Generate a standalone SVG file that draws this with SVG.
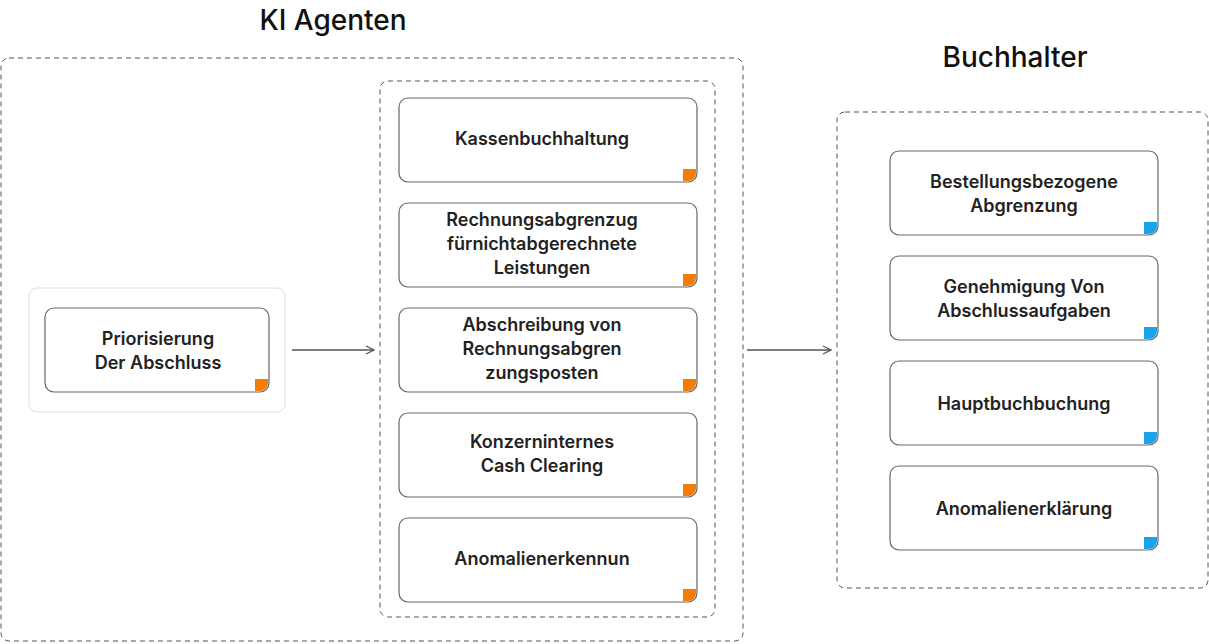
<svg xmlns="http://www.w3.org/2000/svg" width="1209" height="644" viewBox="0 0 1209 644">
<defs>
<style>
.dash{fill:none;stroke:#555;stroke-width:1;stroke-dasharray:5,4}
.node{fill:#fff;stroke:#666;stroke-width:1.2}
.t{font-family:Inter,"Open Sans",sans-serif;font-weight:600;font-size:18px;fill:#222;text-anchor:middle}
.h{font-family:Inter,"Open Sans",sans-serif;font-weight:500;font-size:28px;fill:#111;text-anchor:middle}
.o{fill:#f57c00}.b{fill:#1aa3e8}
.c{stroke:#555;stroke-width:1.3;fill:none}
</style>
<marker id="ar" viewBox="0 0 10 10" refX="9" refY="5" markerWidth="10" markerHeight="10" markerUnits="userSpaceOnUse" orient="auto"><path d="M1,1L9,5L1,9" fill="none" stroke="#555" stroke-width="1.3"/></marker>
</defs>
<rect width="1209" height="644" fill="#fff"/>
<text class="h" x="333" y="30">KI Agenten</text>
<text class="h" x="1015" y="67">Buchhalter</text>
<rect class="dash" x="1" y="58" width="742" height="583" rx="8"/>
<rect class="dash" x="380" y="81" width="335" height="536" rx="8"/>
<rect class="dash" x="837" y="112" width="371" height="476" rx="8"/>
<g id="prio">
<rect x="29" y="288" width="256" height="124" rx="8" fill="#fff" stroke="#ddd"/>
<rect class="node" x="45" y="308" width="224" height="84" rx="9"/>
<path class="o" d="M255,379h13v4a8,8 0 0 1-8,8h-5z"/>
<text class="t" x="158" y="345">Priorisierung</text><text class="t" x="158" y="369">Der Abschluss</text>
</g>
<g id="n1"><rect class="node" x="399" y="98" width="298" height="84" rx="9"/><path class="o" d="M683,169h13v4a8,8 0 0 1-8,8h-5z"/><text class="t" x="542" y="145">Kassenbuchhaltung</text></g>
<g id="n2"><rect class="node" x="399" y="203" width="298" height="84" rx="9"/><path class="o" d="M683,274h13v4a8,8 0 0 1-8,8h-5z"/><text class="t" x="542" y="226">Rechnungsabgrenzug</text><text class="t" x="542" y="250">fürnichtabgerechnete</text><text class="t" x="542" y="274">Leistungen</text></g>
<g id="n3"><rect class="node" x="399" y="308" width="298" height="84" rx="9"/><path class="o" d="M683,379h13v4a8,8 0 0 1-8,8h-5z"/><text class="t" x="542" y="331">Abschreibung von</text><text class="t" x="542" y="355">Rechnungsabgren</text><text class="t" x="542" y="379">zungsposten</text></g>
<g id="n4"><rect class="node" x="399" y="413" width="298" height="84" rx="9"/><path class="o" d="M683,484h13v4a8,8 0 0 1-8,8h-5z"/><text class="t" x="542" y="448">Konzerninternes</text><text class="t" x="542" y="472">Cash Clearing</text></g>
<g id="n5"><rect class="node" x="399" y="518" width="298" height="84" rx="9"/><path class="o" d="M683,589h13v4a8,8 0 0 1-8,8h-5z"/><text class="t" x="542" y="565">Anomalienerkennun</text></g>
<g id="b1"><rect class="node" x="890" y="151" width="268" height="84" rx="9"/><path class="b" d="M1144,222h13v4a8,8 0 0 1-8,8h-5z"/><text class="t" x="1024" y="188">Bestellungsbezogene</text><text class="t" x="1024" y="212">Abgrenzung</text></g>
<g id="b2"><rect class="node" x="890" y="256" width="268" height="84" rx="9"/><path class="b" d="M1144,327h13v4a8,8 0 0 1-8,8h-5z"/><text class="t" x="1024" y="293">Genehmigung Von</text><text class="t" x="1024" y="317">Abschlussaufgaben</text></g>
<g id="b3"><rect class="node" x="890" y="361" width="268" height="84" rx="9"/><path class="b" d="M1144,432h13v4a8,8 0 0 1-8,8h-5z"/><text class="t" x="1024" y="410">Hauptbuchbuchung</text></g>
<g id="b4"><rect class="node" x="890" y="466" width="268" height="84" rx="9"/><path class="b" d="M1144,537h13v4a8,8 0 0 1-8,8h-5z"/><text class="t" x="1024" y="515">Anomalienerklärung</text></g>
<g id="connectors">
<path class="c" d="M292,350H374" marker-end="url(#ar)"/>
<path class="c" d="M747,350H831" marker-end="url(#ar)"/>
</g>
</svg>
